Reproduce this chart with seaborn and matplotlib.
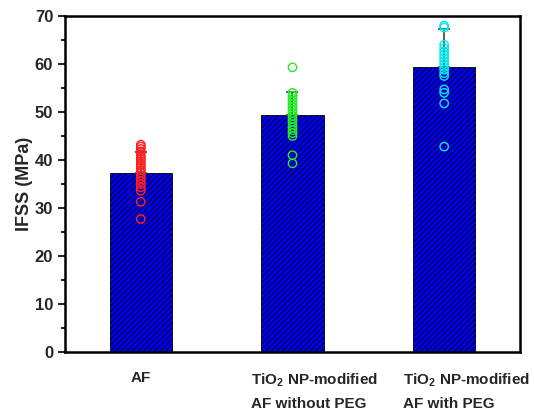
import numpy as np
import pandas as pd
import matplotlib
matplotlib.use("Agg")
import matplotlib.pyplot as plt
import matplotlib.transforms as mtrans
import seaborn as sb

# values
groups = ["AF", "TiO$_2$ NP-modified\nAF without PEG", "TiO$_2$ NP-modified\nAF with PEG"]
means = [37.4, 49.3, 59.4]
sd_up = [4.2, 4.8, 8.0]

pts_af = [43.2, 42.8, 42.3, 41.8, 41.2, 40.6, 40.2, 39.8, 39.3, 38.9, 38.4, 37.9,
          37.4, 36.8, 36.2, 35.6, 35.0, 34.3, 33.6, 31.3, 27.7]
pts_nopeg = [59.3, 54.0, 53.4, 52.8, 52.2, 51.6, 51.0, 50.4, 49.8, 49.2, 48.6, 48.0,
             47.4, 46.8, 46.2, 45.6, 45.0, 41.0, 39.3]
pts_peg = [68.0, 67.6, 64.0, 63.3, 62.6, 62.0, 61.3, 60.6, 60.0, 59.4, 58.8, 58.1,
           57.5, 54.7, 54.0, 51.8, 42.8]
pt_colors = ["#ff2020", "#22ee22", "#00e8f0"]

sb.set_style("white")
plt.rcParams['font.family'] = ['Liberation Sans', 'DejaVu Sans']
plt.rcParams['font.weight'] = 'bold'
plt.rcParams['mathtext.fontset'] = 'custom'
plt.rcParams['mathtext.rm'] = 'Liberation Sans:bold'
plt.rcParams['mathtext.it'] = 'Liberation Sans:bold'
plt.rcParams['mathtext.bf'] = 'Liberation Sans:bold'
plt.rcParams['hatch.linewidth'] = 0.6
plt.rcParams['hatch.color'] = 'black'

bars = pd.DataFrame({'group': groups, 'ifss': means})
pts = pd.DataFrame({
    'group': [groups[0]] * len(pts_af) + [groups[1]] * len(pts_nopeg) + [groups[2]] * len(pts_peg),
    'ifss': pts_af + pts_nopeg + pts_peg,
})

fig = plt.figure(figsize=(5.34, 4.12), dpi=100)
ax = fig.add_axes([0.1217, 0.1456, 0.8521, 0.8155])

sb.barplot(data=bars, x='group', y='ifss', order=groups, color='#0000ee',
           width=0.41, saturation=1, edgecolor='black', linewidth=0.6,
           hatch='//////', ax=ax, errorbar=None)

ax.errorbar(range(3), means, yerr=[np.zeros(3), sd_up], fmt='none',
            ecolor='#404040', elinewidth=1.2, capsize=4, capthick=1.2, zorder=3)

sb.stripplot(data=pts, x='group', y='ifss', order=groups, hue='group', hue_order=groups,
             palette=pt_colors, jitter=False, size=6, linewidth=1, legend=False,
             ax=ax, zorder=4)
for coll in ax.collections:
    fc = coll.get_facecolor()
    if len(fc):
        coll.set_edgecolor(fc)
        coll.set_facecolor('none')

ax.set_xlim(-0.5, 2.5)
ax.set_ylim(0, 70)
ax.set_yticks(np.arange(0, 71, 10))
ax.set_yticks(np.arange(5, 70, 10), minor=True)
ax.tick_params(axis='y', which='major', direction='out', length=5, width=1.5,
               labelsize=12, left=True)
ax.tick_params(axis='y', which='minor', direction='out', length=3, width=1.5, left=True)
ax.tick_params(axis='x', length=0, labelsize=11, pad=14)
for s in ax.spines.values():
    s.set_linewidth(1.8)
    s.set_color('black')

ax.set_xlabel('')
ax.set_ylabel('IFSS (MPa)', fontsize=13, fontweight='bold', labelpad=1)

shift = mtrans.ScaledTranslation(0.22, 0, fig.dpi_scale_trans)
for i, lab in enumerate(ax.get_xticklabels()):
    lab.set_fontweight('bold')
    lab.set_multialignment('left')
    lab.set_linespacing(1.7)
    lab.set_verticalalignment('top')
    if i > 0:
        lab.set_transform(lab.get_transform() + shift)
for lab in ax.get_yticklabels():
    lab.set_fontweight('bold')

fig.savefig('out.png', dpi=100)
